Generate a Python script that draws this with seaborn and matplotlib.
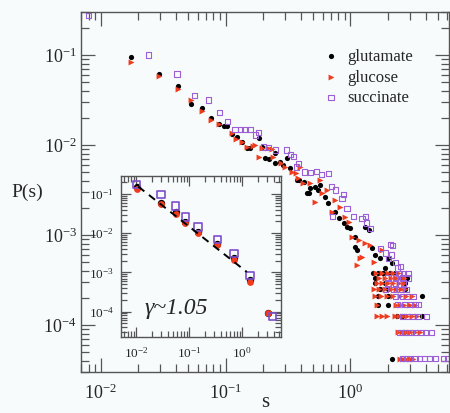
import matplotlib
matplotlib.use("Agg")
import matplotlib.pyplot as plt
import seaborn as sns
import numpy as np

# ---------------- data ----------------
glut_x = [0.0175, 0.0295, 0.0414, 0.053, 0.0648, 0.0766, 0.0883, 0.098, 0.1024, 0.113,
          0.1245, 0.135, 0.148, 0.157, 0.184, 0.195, 0.208, 0.221, 0.25, 0.25,
          0.274, 0.291, 0.31, 0.33, 0.373, 0.385, 0.422, 0.449, 0.463, 0.523,
          0.574, 0.629, 0.668, 0.757, 0.804, 0.882, 0.94, 1.0, 1.094, 1.094,
          1.13, 1.317, 1.40, 1.49, 1.585, 1.74, 2.02, 2.16, 1.905, 0.476, 0.55]
glut_y = [0.0943, 0.0615, 0.0453, 0.0283, 0.0256, 0.0198, 0.0171, 0.01626, 0.01626, 0.01325,
          0.01236, 0.01089, 0.00927, 0.00919, 0.01205, 0.00942, 0.00711, 0.00693, 0.00815, 0.00631,
          0.00652, 0.0060, 0.00711, 0.00555, 0.00408, 0.00408, 0.00391, 0.0029, 0.0029, 0.00344,
          0.0036, 0.00267, 0.00225, 0.00182, 0.00153, 0.00135, 0.00124, 0.0012, 0.00095, 0.00074,
          0.00068, 0.00124, 0.00114, 0.00071, 0.0006, 0.00055, 0.00055, 0.000485, 0.000427, 0.0033, 0.00316]
glut_row_x = [1.53, 1.675, 1.835, 2.09, 2.29,
              1.585, 2.59, 2.84,
              1.585, 1.905, 2.75,
              1.74, 2.01, 2.75,
              1.675, 2.01, 3.75,
              1.675, 2.01,
              2.38, 2.6, 3.75,
              2.7,
              2.16]
glut_row_y = [3.75e-4, 3.75e-4, 3.75e-4, 3.75e-4, 3.75e-4,
              3.33e-4, 3.33e-4, 3.33e-4,
              2.92e-4, 2.92e-4, 2.92e-4,
              2.5e-4, 2.5e-4, 2.5e-4,
              2.08e-4, 2.08e-4, 2.08e-4,
              1.67e-4, 1.67e-4,
              1.25e-4, 1.25e-4, 1.25e-4,
              8.3e-5,
              4.2e-5]

gluc_x = [0.0175, 0.0295, 0.0414, 0.053, 0.0648, 0.0766, 0.0883, 0.112, 0.1217, 0.135,
          0.148, 0.167, 0.173, 0.184, 0.197, 0.22, 0.235, 0.24, 0.28, 0.301,
          0.340, 0.396, 0.364, 0.38, 0.418, 0.476, 0.523, 0.591, 0.648, 0.711,
          0.830, 0.91, 1.03, 1.164, 1.24, 1.13, 1.317, 1.535, 1.79, 1.20,
          0.574, 0.757, 0.97, 1.44]
gluc_y = [0.084, 0.0584, 0.0416, 0.0316, 0.0241, 0.019, 0.0169, 0.0135, 0.01166, 0.0109,
          0.0096, 0.0098, 0.0100, 0.0074, 0.0093, 0.0093, 0.0091, 0.0074, 0.0063, 0.00574,
          0.00505, 0.00574, 0.0049, 0.0043, 0.0038, 0.00375, 0.00234, 0.0029, 0.00316, 0.00182,
          0.00206, 0.0016, 0.00096, 0.00088, 0.00057, 0.000464, 0.00081, 0.000505, 0.00068, 0.00055,
          0.0041, 0.00245, 0.00139, 0.00078]
gluc_row_x = [1.6, 1.8, 2.0, 2.2, 2.4,
              1.7, 1.9, 2.1, 2.3, 2.5, 2.7,
              1.62, 1.8, 2.0, 2.2, 2.45, 2.7,
              1.55, 1.7, 1.9, 2.1, 2.3, 2.55, 2.75,
              1.57, 1.75, 1.95, 2.2, 2.5, 2.8, 3.1,
              1.63, 2.3, 2.5, 2.7, 3.0, 3.3,
              1.63, 1.79, 1.96, 2.29, 2.45, 2.65, 2.85, 3.1, 3.4,
              2.43, 2.6, 2.8, 3.0, 3.3, 3.6,
              2.5, 2.65, 2.8, 3.0, 3.2]
gluc_row_y = [3.75e-4] * 5 + [3.33e-4] * 6 + [2.92e-4] * 6 + [2.5e-4] * 7 + \
             [2.08e-4] * 7 + [1.67e-4] * 6 + [1.25e-4] * 9 + [8.3e-5] * 6 + [4.2e-5] * 5

succ_x = [0.00796, 0.0243, 0.0408, 0.0568, 0.073, 0.0889, 0.1035, 0.119, 0.131, 0.143,
          0.157, 0.173, 0.184, 0.2, 0.22, 0.25, 0.31, 0.33, 0.35, 0.385,
          0.37, 0.43, 0.476, 0.532, 0.59, 0.668, 0.711, 0.757, 0.857, 0.94,
          0.88, 1.24, 1.317, 1.35, 0.716, 1.056, 1.44, 1.74, 2.16, 1.905,
          2.02, 2.51, 2.09, 2.15, 2.29, 2.38]
succ_y = [0.273, 0.1, 0.0615, 0.0357, 0.0316, 0.0229, 0.0182, 0.0147, 0.0147, 0.0147,
          0.0147, 0.0129, 0.0137, 0.0095, 0.0093, 0.0088, 0.0088, 0.0078, 0.0074, 0.00627,
          0.0057, 0.0050, 0.0049, 0.00505, 0.0047, 0.0048, 0.00344, 0.00316, 0.00256, 0.00198,
          0.0028, 0.00153, 0.0016, 0.00136, 0.0016, 0.0016, 0.00119, 0.00071, 0.00077, 0.00063,
          0.00055, 0.000445, 0.00078, 0.0006, 0.00049, 0.00043]
succ_row_x = [2.45, 2.65, 2.9,
              2.0, 2.3, 2.6, 2.9,
              2.0, 2.3, 2.65,
              1.9, 2.2, 2.5, 2.8,
              2.3, 2.6, 2.9, 3.2,
              2.4, 2.7, 3.0, 3.3, 3.5,
              2.6, 2.9, 3.2, 3.5, 4.1,
              2.5, 2.7, 2.9, 3.1, 3.4, 3.7, 4.0, 4.5,
              2.6, 2.8, 3.0, 3.3, 3.6, 3.9, 4.3, 4.8, 5.55, 6.0]
succ_row_y = [3.75e-4] * 3 + [3.33e-4] * 4 + [2.92e-4] * 3 + [2.5e-4] * 4 + \
             [2.08e-4] * 4 + [1.67e-4] * 5 + [1.25e-4] * 5 + [8.3e-5] * 8 + [4.2e-5] * 10

# inset (binned) data
inset_x = [0.0103, 0.0296, 0.0556, 0.085, 0.148, 0.342, 0.706, 1.42]
inset_glut_y = [0.15, 0.06, 0.034, 0.0195, 0.011, 0.0054, 0.0023, 0.00065]
inset_gluc_y = [0.135, 0.057, 0.031, 0.0178, 0.0100, 0.0050, 0.0021, 0.00058]
inset_succ_y = [0.177, 0.098, 0.049, 0.026, 0.0145, 0.0069, 0.0030, 0.00083]
inset_tail_x = [3.13, 3.13, 3.79]
inset_tail_y = [9.4e-5, 9.0e-5, 7.4e-5]
fit_x = [0.011, 1.23]
fit_y = [0.155, 0.00103]

labels = ["glutamate", "glucose", "succinate"]
gamma_text = "γ~1.05"

# ---------------- style ----------------
sns.set_style("ticks")
plt.rcParams["font.family"] = ["Liberation Serif", "DejaVu Serif"]
plt.rcParams["mathtext.default"] = "regular"
plt.rcParams["axes.unicode_minus"] = True

BG = "#f7fbfc"
BLACK = "#000000"
RED = "#f03c1e"
PURPLE = "#9c5fd6"
SPINE = "#555555"

fig = plt.figure(figsize=(4.5, 4.13), dpi=100, facecolor=BG)
ax = fig.add_axes([81 / 450, 1 - 372 / 413, 368 / 450, 360 / 413])
ax.set_facecolor(BG)

sns.scatterplot(x=glut_x + glut_row_x, y=glut_y + glut_row_y, ax=ax, marker="o",
                color=BLACK, s=14, linewidth=0, label=labels[0])
sns.scatterplot(x=gluc_x + gluc_row_x, y=gluc_y + gluc_row_y, ax=ax, marker=">",
                color=RED, s=18, linewidth=0, label=labels[1])
sns.scatterplot(x=succ_x + succ_row_x, y=succ_y + succ_row_y, ax=ax, marker="s",
                facecolors="none", edgecolor=PURPLE, s=14, linewidth=0.8, label=labels[2])

ax.set_xscale("log")
ax.set_yscale("log")
ax.set_xlim(0.00695, 6.17)
ax.set_ylim(3.0e-5, 0.30)

for sp in ax.spines.values():
    sp.set_color(SPINE)
    sp.set_linewidth(1.0)
ax.tick_params(which="both", direction="in", top=True, right=True, color=SPINE, width=0.9)
ax.tick_params(which="major", length=10, labelsize=13, pad=8)
ax.tick_params(which="minor", length=6)
ax.tick_params(axis="y", which="major", pad=3)

ax.set_xlabel("s", fontsize=15, va="bottom")
ax.xaxis.set_label_coords(0.5, -0.112)
ax.set_ylabel("P(s)", fontsize=14, rotation=0, ha="center", va="center")
ax.yaxis.set_label_coords(-0.147, 0.5)

leg = ax.legend(loc="upper left", bbox_to_anchor=(0.625, 0.93), frameon=False,
                fontsize=12, handlelength=1.0, handletextpad=0.5, labelspacing=0.28,
                borderpad=0.2, markerscale=1.0)

# ---------------- inset ----------------
ins = fig.add_axes([120.7 / 450, 1 - 336.7 / 413, 160.3 / 450, 161 / 413])
ins.set_facecolor(BG)
sns.lineplot(x=fit_x, y=fit_y, ax=ins, color=BLACK, linewidth=1.4,
             linestyle=(0, (4, 3)), legend=False)
sns.scatterplot(x=inset_x + inset_tail_x[:1], y=inset_glut_y + inset_tail_y[:1], ax=ins,
                marker="o", color=BLACK, s=28, linewidth=0, legend=False)
sns.scatterplot(x=inset_x + inset_tail_x[1:2], y=inset_gluc_y + inset_tail_y[1:2], ax=ins,
                marker="o", color=RED, s=24, linewidth=0, legend=False)
sns.scatterplot(x=inset_x + inset_tail_x[2:], y=inset_succ_y + inset_tail_y[2:], ax=ins,
                marker="s", facecolors="none", edgecolor="#7d4fcc", s=28, linewidth=1.2,
                legend=False)
ins.set_xscale("log")
ins.set_yscale("log")
ins.set_xlim(0.00514, 5.44)
ins.set_ylim(2.3e-5, 0.293)
ins.set_xlabel("")
ins.set_ylabel("")
for sp in ins.spines.values():
    sp.set_color(SPINE)
    sp.set_linewidth(1.0)
ins.tick_params(which="both", direction="in", top=True, right=True, color=SPINE, width=0.9)
ins.tick_params(which="major", length=7, labelsize=9.5, pad=7)
ins.tick_params(which="minor", length=4)
ins.tick_params(axis="y", which="major", pad=5)
ins.text(0.15, 0.178, gamma_text, transform=ins.transAxes, fontsize=17,
         style="italic", ha="left", va="center")

fig.savefig("out.png", dpi=100, facecolor=BG)
